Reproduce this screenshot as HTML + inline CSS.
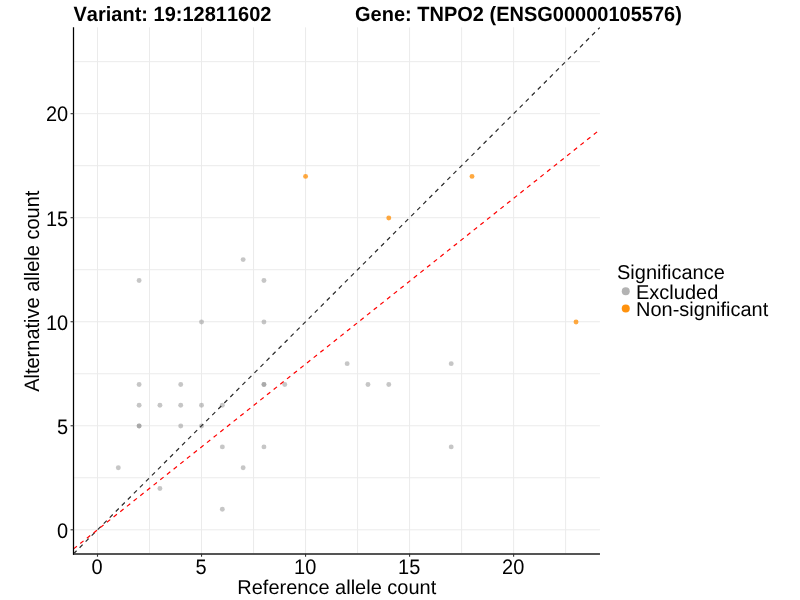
<!DOCTYPE html>
<html><head><meta charset="utf-8"><style>
html,body{margin:0;padding:0;background:#fff;width:800px;height:600px;overflow:hidden}
svg{display:block;will-change:transform}
text{font-family:"Liberation Sans",sans-serif;fill:#000;font-kerning:none;text-rendering:geometricPrecision}
</style></head><body>
<svg width="800" height="600" viewBox="0 0 800 600">
<rect width="800" height="600" fill="#fff"/>
<defs><clipPath id="pc"><rect x="73.57" y="27.34" width="526.39" height="526.39"/></clipPath></defs>
<g stroke="#ebebeb" stroke-width="1" fill="none">
<line x1="97.50" y1="27.34" x2="97.50" y2="553.73"/>
<line x1="73.57" y1="529.80" x2="599.96" y2="529.80"/>
<line x1="149.51" y1="27.34" x2="149.51" y2="553.73"/>
<line x1="73.57" y1="477.78" x2="599.96" y2="477.78"/>
<line x1="201.53" y1="27.34" x2="201.53" y2="553.73"/>
<line x1="73.57" y1="425.77" x2="599.96" y2="425.77"/>
<line x1="253.55" y1="27.34" x2="253.55" y2="553.73"/>
<line x1="73.57" y1="373.75" x2="599.96" y2="373.75"/>
<line x1="305.56" y1="27.34" x2="305.56" y2="553.73"/>
<line x1="73.57" y1="321.74" x2="599.96" y2="321.74"/>
<line x1="357.57" y1="27.34" x2="357.57" y2="553.73"/>
<line x1="73.57" y1="269.72" x2="599.96" y2="269.72"/>
<line x1="409.59" y1="27.34" x2="409.59" y2="553.73"/>
<line x1="73.57" y1="217.71" x2="599.96" y2="217.71"/>
<line x1="461.61" y1="27.34" x2="461.61" y2="553.73"/>
<line x1="73.57" y1="165.69" x2="599.96" y2="165.69"/>
<line x1="513.62" y1="27.34" x2="513.62" y2="553.73"/>
<line x1="73.57" y1="113.68" x2="599.96" y2="113.68"/>
<line x1="565.63" y1="27.34" x2="565.63" y2="553.73"/>
<line x1="73.57" y1="61.66" x2="599.96" y2="61.66"/>
</g>
<g fill="#8f8f8f" fill-opacity="0.51" stroke="none">
<circle cx="118.31" cy="467.68" r="2.45"/>
<circle cx="139.11" cy="280.43" r="2.45"/>
<circle cx="139.11" cy="384.46" r="2.45"/>
<circle cx="139.11" cy="405.26" r="2.45"/>
<circle cx="139.11" cy="426.07" r="2.45"/>
<circle cx="139.11" cy="426.07" r="2.45"/>
<circle cx="159.92" cy="405.26" r="2.45"/>
<circle cx="159.92" cy="488.49" r="2.45"/>
<circle cx="180.72" cy="384.46" r="2.45"/>
<circle cx="180.72" cy="405.26" r="2.45"/>
<circle cx="180.72" cy="426.07" r="2.45"/>
<circle cx="201.53" cy="322.04" r="2.45"/>
<circle cx="201.53" cy="405.26" r="2.45"/>
<circle cx="201.53" cy="426.07" r="2.45"/>
<circle cx="222.34" cy="405.26" r="2.45"/>
<circle cx="222.34" cy="446.88" r="2.45"/>
<circle cx="222.34" cy="509.29" r="2.45"/>
<circle cx="243.14" cy="259.62" r="2.45"/>
<circle cx="243.14" cy="467.68" r="2.45"/>
<circle cx="263.95" cy="280.43" r="2.45"/>
<circle cx="263.95" cy="322.04" r="2.45"/>
<circle cx="263.95" cy="384.46" r="2.45"/>
<circle cx="263.95" cy="384.46" r="2.45"/>
<circle cx="263.95" cy="446.88" r="2.45"/>
<circle cx="284.75" cy="384.46" r="2.45"/>
<circle cx="347.17" cy="363.65" r="2.45"/>
<circle cx="367.98" cy="384.46" r="2.45"/>
<circle cx="388.78" cy="384.46" r="2.45"/>
<circle cx="451.20" cy="363.65" r="2.45"/>
<circle cx="451.20" cy="446.88" r="2.45"/>
</g>
<g fill="#ff8c00" fill-opacity="0.75" stroke="none">
<circle cx="305.56" cy="176.40" r="2.45"/>
<circle cx="388.78" cy="218.01" r="2.45"/>
<circle cx="472.01" cy="176.40" r="2.45"/>
<circle cx="576.04" cy="322.04" r="2.45"/>
</g>
<g clip-path="url(#pc)" fill="none" stroke-width="1.2" stroke-dasharray="4.263 4.263">
<line x1="73.57" y1="553.73" x2="599.96" y2="27.34" stroke="#2b2b2b"/>
<line x1="73.57" y1="548.86" x2="599.96" y2="129.59" stroke="#ff0000"/>
</g>
<rect x="73" y="553" width="526.96" height="2" fill="#555"/><line x1="73.5" y1="27.34" x2="73.5" y2="554.7" stroke="#000" stroke-width="1.25"/>
<g stroke="#333" stroke-width="1.1">
<line x1="97.50" y1="553.73" x2="97.50" y2="556.73"/>
<line x1="70.57" y1="529.80" x2="73.57" y2="529.80"/>
<line x1="201.53" y1="553.73" x2="201.53" y2="556.73"/>
<line x1="70.57" y1="425.77" x2="73.57" y2="425.77"/>
<line x1="305.56" y1="553.73" x2="305.56" y2="556.73"/>
<line x1="70.57" y1="321.74" x2="73.57" y2="321.74"/>
<line x1="409.59" y1="553.73" x2="409.59" y2="556.73"/>
<line x1="70.57" y1="217.71" x2="73.57" y2="217.71"/>
<line x1="513.62" y1="553.73" x2="513.62" y2="556.73"/>
<line x1="70.57" y1="113.68" x2="73.57" y2="113.68"/>
</g>
<text transform="translate(97.10 573.90) scale(1 1.05) skewX(0.05)" font-size="20" text-anchor="middle">0</text>
<text transform="translate(68.20 538.20) scale(1 1.05) skewX(0.05)" font-size="20" text-anchor="end">0</text>
<text transform="translate(201.13 573.90) scale(1 1.05) skewX(0.05)" font-size="20" text-anchor="middle">5</text>
<text transform="translate(68.20 434.17) scale(1 1.05) skewX(0.05)" font-size="20" text-anchor="end">5</text>
<text transform="translate(305.16 573.90) scale(1 1.05) skewX(0.05)" font-size="20" text-anchor="middle">10</text>
<text transform="translate(68.20 330.14) scale(1 1.05) skewX(0.05)" font-size="20" text-anchor="end">10</text>
<text transform="translate(409.19 573.90) scale(1 1.05) skewX(0.05)" font-size="20" text-anchor="middle">15</text>
<text transform="translate(68.20 226.11) scale(1 1.05) skewX(0.05)" font-size="20" text-anchor="end">15</text>
<text transform="translate(513.22 573.90) scale(1 1.05) skewX(0.05)" font-size="20" text-anchor="middle">20</text>
<text transform="translate(68.20 121.08) scale(1 1.05) skewX(0.05)" font-size="20" text-anchor="end">20</text>
<text transform="translate(336.77 593.50) scale(1 1.0) skewX(0.05)" font-size="20" text-anchor="middle">Reference allele count</text>
<text transform="translate(39.30 291.23) rotate(-90) scale(1 1.04) skewX(0.05)" font-size="20" text-anchor="middle">Alternative allele count</text>
<text transform="translate(73.50 20.60) scale(1 1.03) skewX(0.05)" font-size="20" font-weight="bold">Variant: 19:12811602</text>
<text transform="translate(355.00 20.60) scale(1 1.03) skewX(0.05)" font-size="20" font-weight="bold">Gene: TNPO2 (ENSG00000105576)</text>
<text transform="translate(617.00 278.60) scale(1 1.0) skewX(0.05)" font-size="20">Significance</text>
<circle cx="625.75" cy="291.25" r="4" fill="#b3b3b3"/>
<circle cx="625.75" cy="308.6" r="4" fill="#ff8c00" fill-opacity="0.95"/>
<text transform="translate(636.00 298.90) scale(1 1.0) skewX(0.05)" font-size="20">Excluded</text>
<text transform="translate(636.00 315.90) scale(1 1.0) skewX(0.05)" font-size="20">Non-significant</text>
</svg></body></html>
